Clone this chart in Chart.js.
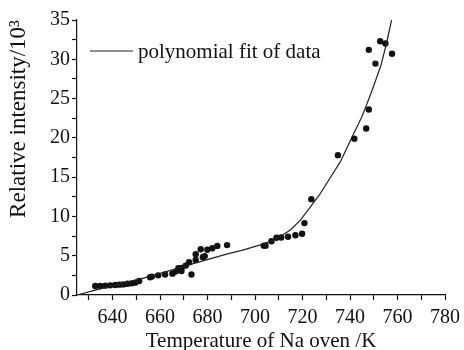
<!DOCTYPE html>
<html>
<head>
<meta charset="utf-8">
<script src="https://cdn.jsdelivr.net/npm/chart.js@4.4.1/dist/chart.umd.min.js"></script>
<style>
  html, body { margin: 0; padding: 0; background: #fff; }
  #wrap { width: 464px; height: 350px; }
</style>
</head>
<body>
<div id="wrap"><canvas id="c"></canvas></div>
<script>
// measured points: oven temperature (K) vs relative intensity (x10^3)
var tempK = [632.7, 634.8, 636.9, 639.0, 641.1, 642.8, 644.5, 646.3, 648.0, 649.5, 651.2,
  655.8, 656.5, 659.2, 662.1, 665.2, 666.6, 667.7, 669.0, 669.0, 670.8, 672.2, 673.2,
  675.0, 675.0, 677.1, 678.0, 678.8, 679.9, 682.0, 684.1, 688.2,
  703.7, 704.4, 706.9, 709.0, 711.0, 713.9, 717.0, 719.8, 720.8, 723.7,
  734.9, 741.8, 746.8, 747.9, 747.9, 750.7, 752.7, 754.9, 757.7];
var intensity = [1.15, 1.15, 1.19, 1.23, 1.28, 1.32, 1.35, 1.44, 1.48, 1.57, 1.79,
  2.25, 2.34, 2.5, 2.6, 2.72, 2.98, 3.4, 3.05, 3.45, 3.74, 4.16, 2.6,
  5.2, 4.47, 5.83, 4.8, 4.95, 5.75, 5.95, 6.25, 6.35,
  6.28, 6.28, 6.85, 7.28, 7.32, 7.42, 7.6, 7.8, 9.15, 12.2,
  17.8, 19.9, 21.2, 23.6, 31.2, 29.45, 32.3, 32.0, 30.7];

// fitted curve
var fitTemp = [625, 633, 640, 646, 653, 660, 667, 674, 681, 688, 694, 698, 703, 707, 711,
  715, 719, 723, 727, 731, 736, 741, 745, 749, 753, 755.5, 757.7];
var fitIntensity = [0, 0.65, 1.15, 1.6, 2.15, 2.75, 3.35, 4.0, 4.6, 5.2, 5.65, 6.0, 6.45, 6.9, 7.5,
  8.3, 9.5, 11.1, 12.7, 14.6, 17.0, 20.2, 22.7, 25.8, 29.2, 32.2, 35.3];

var xTicks = [630, 640, 650, 660, 670, 680, 690, 700, 710, 720, 730, 740, 750, 760, 770, 780];
var yTicks = [0, 2.5, 5, 7.5, 10, 12.5, 15, 17.5, 20, 22.5, 25, 27.5, 30, 32.5, 35];

var FONT = '"Liberation Serif", "Times New Roman", serif';
var INK = '#111';

function pts(xs, ys) {
  return xs.map(function (x, i) { return { x: x, y: ys[i] }; });
}

// legend drawn inside the plot area, top-left, like the original
var insideLegend = {
  id: 'insideLegend',
  afterDraw: function (chart) {
    var ds = chart.data.datasets[0];
    var ctx = chart.ctx;
    var x0 = 90, y0 = 51;
    ctx.save();
    ctx.strokeStyle = ds.borderColor;
    ctx.lineWidth = ds.borderWidth;
    ctx.beginPath(); ctx.moveTo(x0, y0); ctx.lineTo(x0 + 43, y0); ctx.stroke();
    ctx.fillStyle = INK;
    ctx.font = '21px ' + FONT;
    ctx.textBaseline = 'middle';
    ctx.fillText(ds.label, x0 + 48, y0 + 1);
    ctx.restore();
  }
};

function axisTicks(values) {
  return function (scale) { scale.ticks = values.map(function (v) { return { value: v }; }); };
}

new Chart(document.getElementById('c'), {
  type: 'scatter',
  data: {
    datasets: [
      {
        type: 'line', label: 'polynomial fit of data', data: pts(fitTemp, fitIntensity),
        borderColor: '#222', borderWidth: 1.2, pointRadius: 0, tension: 0, fill: false
      },
      {
        label: 'data', data: pts(tempK, intensity),
        backgroundColor: INK, borderColor: INK, pointRadius: 3.2, pointBorderWidth: 0
      }
    ]
  },
  options: {
    responsive: true, maintainAspectRatio: false, animation: false,
    layout: { padding: { left: 4, right: 0, top: 20, bottom: -2 } },
    plugins: { legend: { display: false }, tooltip: { enabled: false } },
    scales: {
      x: {
        type: 'linear', min: 625, max: 780,
        afterBuildTicks: axisTicks(xTicks),
        afterFit: function (s) { s.paddingRight = 19; },
        border: { color: INK, width: 1.2 },
        grid: { drawOnChartArea: false, tickLength: 5, tickColor: INK, tickWidth: 1.2 },
        ticks: {
          color: INK, font: { family: FONT, size: 20, lineHeight: 1 }, padding: 8, maxRotation: 0, autoSkip: false,
          callback: function (v) { return v % 20 === 0 ? String(v) : ''; }
        },
        title: { display: true, text: 'Temperature of Na oven /K', color: INK,
          font: { family: FONT, size: 21, lineHeight: 1 }, padding: { top: -5, bottom: 0 } }
      },
      y: {
        type: 'linear', min: 0, max: 35,
        afterBuildTicks: axisTicks(yTicks),
        border: { color: INK, width: 1.2 },
        grid: { drawOnChartArea: false, tickLength: 5, tickColor: INK, tickWidth: 1.2 },
        ticks: {
          color: INK, font: { family: FONT, size: 20, lineHeight: 1 }, padding: 2, autoSkip: false,
          callback: function (v) { return v % 5 === 0 ? String(v) : ''; }
        },
        title: { display: true, text: 'Relative intensity/10\u00b3', align: 'end', color: INK,
          font: { family: FONT, size: 23, lineHeight: 1 }, padding: { top: 3, bottom: 18 } }
      }
    }
  },
  plugins: [insideLegend]
});
</script>
</body>
</html>
